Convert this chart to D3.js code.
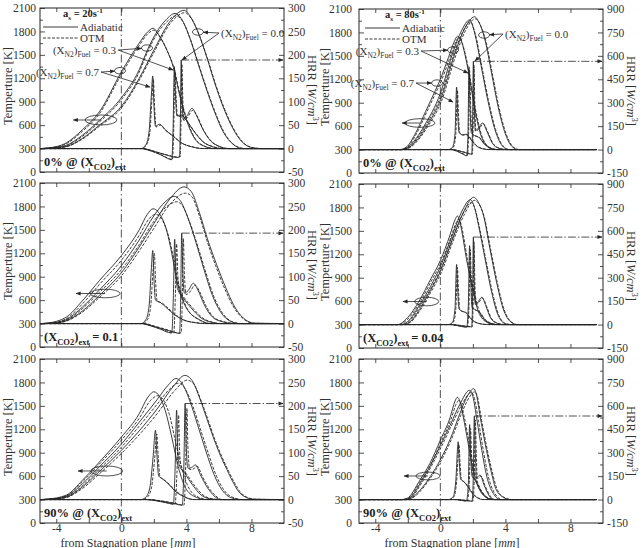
<!DOCTYPE html>
<html>
<head>
<meta charset="utf-8">
<script src="https://cdn.jsdelivr.net/npm/d3@7"></script>
<style>
body { margin: 0; background: #fff; }
svg { font-family: "Liberation Serif", "Times New Roman", serif; }
</style>
</head>
<body>
<div id="chart-area"></div>
<script>
// ---- data: [mm from stagnation plane, value] ----
// top-left: a = 20 1/s, 0% CO2
const L1_T07a = [[-5,300],[-4.4,310],[-3.4,370],[-2.4,540],[-1.35,770],[0,1280],[1.1,1650],[1.6,1790],[1.95,1840],[2.35,1740],[2.8,1560],[3.2,1340],[3.6,970],[4.0,670],[4.5,430],[5.1,330],[5.7,300],[10,300]];
const L1_T07o = [[-5,300],[-4.4,308],[-3.4,360],[-2.4,520],[-1.35,745],[0,1250],[1.1,1620],[1.6,1765],[2.0,1815],[2.4,1720],[2.85,1540],[3.25,1320],[3.65,950],[4.05,660],[4.55,425],[5.15,328],[5.8,300],[10,300]];
const L1_T03a = [[-5,300],[-4.2,310],[-3.4,340],[-2.4,470],[-1.35,660],[0,950],[1.1,1310],[1.6,1560],[2.2,1800],[2.75,1950],[3.3,2030],[3.7,1960],[4.2,1720],[4.7,1400],[5.25,1050],[5.75,760],[6.25,520],[6.9,350],[7.5,300],[10,300]];
const L1_T03o = [[-5,300],[-4.2,308],[-3.4,335],[-2.4,455],[-1.35,640],[0,925],[1.1,1280],[1.6,1530],[2.2,1770],[2.8,1925],[3.35,2000],[3.75,1935],[4.25,1700],[4.75,1380],[5.3,1035],[5.8,750],[6.3,515],[6.95,345],[7.6,300],[10,300]];
const L1_T00a = [[-5,300],[-4.0,310],[-3.4,325],[-2.4,430],[-1.35,600],[0,840],[1.1,1200],[2.0,1560],[3.0,1930],[3.85,2070],[4.25,1990],[4.75,1770],[5.25,1470],[5.75,1135],[6.25,840],[6.8,580],[7.4,390],[8.1,310],[8.6,300],[10,300]];
const L1_T00o = [[-5,300],[-4.0,308],[-3.4,322],[-2.4,420],[-1.35,585],[0,820],[1.1,1175],[2.0,1530],[3.0,1900],[3.9,2040],[4.3,1965],[4.8,1750],[5.3,1450],[5.8,1120],[6.3,830],[6.85,575],[7.45,385],[8.15,308],[8.7,300],[10,300]];
const L1_H07a = [[-5,0],[1.2,0],[1.5,8],[1.7,35],[1.84,110],[1.93,155],[2.0,95],[2.1,48],[2.35,52],[2.7,40],[3.2,26],[3.7,12],[4.3,4],[5,0],[10,0]];
const L1_H07o = [[-5,0],[1.25,0],[1.55,8],[1.75,33],[1.88,105],[1.97,148],[2.04,92],[2.14,46],[2.4,50],[2.75,38],[3.25,25],[3.75,11],[4.35,4],[5.05,0],[10,0]];
const L1_H03a = [[-5,0],[1.2,0],[1.8,-5],[2.4,-13],[2.85,-21],[3.1,-24],[3.18,40],[3.26,175],[3.32,120],[3.42,70],[3.7,72],[4.0,60],[4.5,35],[5.0,15],[5.6,4],[6.2,0],[10,0]];
const L1_H03o = [[-5,0],[1.25,0],[1.85,-5],[2.45,-13],[2.9,-21],[3.14,-23],[3.22,40],[3.3,166],[3.36,115],[3.46,68],[3.75,70],[4.05,58],[4.55,34],[5.05,14],[5.65,4],[6.25,0],[10,0]];
const L1_H00a = [[-5,0],[1.3,0],[2.0,-6],[2.8,-14],[3.4,-19],[3.58,-18],[3.63,60],[3.68,189],[3.74,110],[3.8,62],[4.0,68],[4.35,86],[4.6,72],[5.0,42],[5.5,16],[6.0,5],[6.6,0],[10,0]];
const L1_H00o = [[-5,0],[1.35,0],[2.05,-6],[2.85,-14],[3.45,-18],[3.62,-17],[3.67,58],[3.72,180],[3.78,106],[3.84,60],[4.05,66],[4.4,82],[4.65,70],[5.05,40],[5.55,15],[6.05,4],[6.65,0],[10,0]];

// top-right: a = 80 1/s, 0% CO2
const R1_T07a = [[-5,300],[-2.5,300],[-2.1,330],[-1.5,520],[-0.9,790],[-0.3,1060],[0,1200],[0.5,1480],[0.85,1680],[1.05,1750],[1.25,1710],[1.5,1530],[1.8,1210],[2.1,840],[2.5,480],[2.9,340],[3.3,300],[9.6,300]];
const R1_T07o = [[-5,300],[-2.45,300],[-2.05,328],[-1.45,510],[-0.85,775],[-0.25,1040],[0.05,1175],[0.55,1455],[0.9,1655],[1.1,1725],[1.3,1685],[1.55,1510],[1.85,1190],[2.15,830],[2.55,475],[2.95,338],[3.35,300],[9.6,300]];
const R1_T03a = [[-5,300],[-2.4,300],[-2.0,330],[-1.5,440],[-1.0,600],[0,1020],[0.75,1530],[1.3,1820],[1.8,1960],[2.1,1800],[2.5,1380],[2.9,950],[3.35,560],[3.8,350],[4.2,300],[9.6,300]];
const R1_T03o = [[-5,300],[-2.35,300],[-1.95,328],[-1.45,435],[-0.95,590],[0.05,1000],[0.8,1505],[1.35,1795],[1.85,1935],[2.15,1780],[2.55,1365],[2.95,940],[3.4,555],[3.85,348],[4.25,300],[9.6,300]];
const R1_T00a = [[-5,300],[-2.3,300],[-1.9,330],[-1.4,430],[-0.9,580],[0,930],[0.9,1530],[1.5,1850],[2.1,2000],[2.4,1920],[2.75,1700],[3.15,1280],[3.55,850],[4.0,500],[4.45,330],[4.8,300],[9.6,300]];
const R1_T00o = [[-5,300],[-2.25,300],[-1.85,328],[-1.35,425],[-0.85,570],[0.05,910],[0.95,1505],[1.55,1825],[2.15,1975],[2.45,1900],[2.8,1685],[3.2,1270],[3.6,845],[4.05,498],[4.5,330],[4.85,300],[9.6,300]];
const R1_H07a = [[-5,0],[0.5,0],[0.75,15],[0.9,100],[1.0,400],[1.06,250],[1.15,110],[1.35,95],[1.6,98],[1.9,60],[2.2,25],[2.6,5],[3.0,0],[9.6,0]];
const R1_H07o = [[-5,0],[0.55,0],[0.8,15],[0.95,95],[1.05,380],[1.11,240],[1.2,105],[1.4,92],[1.65,95],[1.95,58],[2.25,24],[2.65,5],[3.05,0],[9.6,0]];
const R1_H03a = [[-5,0],[0.6,0],[1.0,-10],[1.4,-30],[1.62,-40],[1.7,100],[1.76,530],[1.82,300],[1.9,110],[2.1,90],[2.35,80],[2.7,35],[3.1,8],[3.5,0],[9.6,0]];
const R1_H03o = [[-5,0],[0.65,0],[1.05,-10],[1.45,-29],[1.66,-38],[1.74,100],[1.8,505],[1.86,290],[1.94,105],[2.14,88],[2.4,78],[2.75,34],[3.15,8],[3.55,0],[9.6,0]];
const R1_H00a = [[-5,0],[0.7,0],[1.2,-10],[1.7,-25],[1.93,-30],[1.98,150],[2.03,565],[2.08,300],[2.15,120],[2.35,140],[2.6,170],[2.85,120],[3.2,40],[3.6,8],[4.0,0],[9.6,0]];
const R1_H00o = [[-5,0],[0.75,0],[1.25,-10],[1.75,-24],[1.97,-29],[2.02,150],[2.07,540],[2.12,290],[2.19,118],[2.4,136],[2.65,165],[2.9,116],[3.25,38],[3.65,8],[4.05,0],[9.6,0]];

// middle-left: a = 20 1/s, X_CO2 = 0.1
const L2_T07a = [[-5,300],[-4.6,305],[-3.4,380],[-2.4,590],[-1.35,850],[0,1170],[1.1,1500],[1.6,1700],[1.95,1770],[2.3,1720],[2.8,1480],[3.1,1200],[3.4,860],[4.0,500],[4.8,350],[5.5,300],[10,300]];
const L2_T07o = [[-5,300],[-4.4,305],[-3.4,360],[-2.4,550],[-1.35,800],[0,1110],[1.1,1430],[1.7,1640],[2.1,1700],[2.45,1650],[2.9,1420],[3.2,1150],[3.5,830],[4.05,490],[4.8,345],[5.5,300],[10,300]];
const L2_T03a = [[-5,300],[-4.4,305],[-3.4,350],[-2.4,510],[-1.35,730],[0,1040],[1.1,1370],[2.0,1680],[2.7,1860],[3.25,1930],[3.6,1880],[4.1,1650],[4.6,1330],[5.1,980],[5.6,660],[6.1,450],[6.7,330],[7.3,300],[10,300]];
const L2_T03o = [[-5,300],[-4.3,305],[-3.4,340],[-2.4,490],[-1.35,700],[0,990],[1.1,1310],[2.0,1610],[2.8,1800],[3.4,1860],[3.75,1810],[4.2,1600],[4.7,1290],[5.2,950],[5.7,640],[6.2,440],[6.8,325],[7.4,300],[10,300]];
const L2_T00a = [[-5,300],[-4.2,305],[-3.4,335],[-2.4,460],[-1.35,660],[0,950],[1.1,1280],[2.0,1580],[3.0,1900],[3.85,2050],[4.3,1990],[4.8,1720],[5.3,1380],[5.85,1060],[6.4,770],[6.9,540],[7.5,370],[8.2,305],[10,300]];
const L2_T00o = [[-5,300],[-4.1,305],[-3.4,330],[-2.4,445],[-1.35,635],[0,910],[1.1,1230],[2.0,1520],[3.0,1830],[3.95,1970],[4.35,1920],[4.8,1680],[5.3,1340],[5.8,1040],[6.35,750],[6.85,530],[7.45,370],[8.1,305],[10,300]];
const L2_H07a = [[-5,0],[1.2,0],[1.5,8],[1.7,35],[1.85,120],[1.93,156],[2.0,100],[2.1,50],[2.4,45],[2.8,33],[3.3,18],[3.8,8],[4.5,2],[5.1,0],[10,0]];
const L2_H07o = [[-5,0],[1.3,0],[1.6,8],[1.8,35],[1.95,115],[2.03,150],[2.1,96],[2.2,48],[2.5,44],[2.9,32],[3.4,17],[3.9,7],[4.6,2],[5.2,0],[10,0]];
const L2_H03a = [[-5,0],[1.2,0],[1.8,-5],[2.4,-12],[2.9,-19],[3.1,-20],[3.2,60],[3.28,180],[3.35,110],[3.45,75],[3.8,55],[4.3,33],[4.9,12],[5.5,3],[6.1,0],[10,0]];
const L2_H03o = [[-5,0],[1.3,0],[1.9,-5],[2.5,-12],[3.0,-19],[3.22,-20],[3.32,58],[3.4,170],[3.47,105],[3.57,72],[3.92,53],[4.42,32],[5.0,12],[5.6,3],[6.2,0],[10,0]];
const L2_H00a = [[-5,0],[1.3,0],[2.0,-6],[2.8,-14],[3.4,-20],[3.58,-21],[3.65,60],[3.71,193],[3.78,110],[3.88,65],[4.1,70],[4.43,86],[4.7,72],[5.1,40],[5.6,14],[6.2,4],[7.0,0],[10,0]];
const L2_H00o = [[-5,0],[1.4,0],[2.1,-6],[2.9,-14],[3.5,-20],[3.68,-20],[3.75,58],[3.81,182],[3.88,105],[3.98,62],[4.2,67],[4.53,82],[4.8,69],[5.2,38],[5.7,13],[6.3,4],[7.1,0],[10,0]];

// middle-right: a = 80 1/s, X_CO2 = 0.04
const R2_T07a = [[-5,300],[-2.6,300],[-2.1,370],[-1.25,620],[-0.65,860],[0,1120],[0.6,1450],[0.9,1640],[1.05,1690],[1.2,1620],[1.35,1460],[1.6,1150],[1.95,790],[2.35,460],[2.85,330],[3.3,300],[9.6,300]];
const R2_T07o = [[-5,300],[-2.55,300],[-2.05,360],[-1.2,605],[-0.6,840],[0.05,1095],[0.65,1420],[0.98,1605],[1.12,1650],[1.27,1590],[1.42,1440],[1.67,1130],[2.02,780],[2.42,455],[2.92,328],[3.35,300],[9.6,300]];
const R2_T03a = [[-5,300],[-2.4,300],[-2.0,340],[-1.25,560],[-0.6,790],[0,1040],[0.7,1420],[1.3,1740],[1.85,1900],[2.1,1800],[2.35,1570],[2.75,1140],[3.15,720],[3.55,420],[4.0,310],[4.3,300],[9.6,300]];
const R2_T03o = [[-5,300],[-2.35,300],[-1.95,335],[-1.2,550],[-0.55,775],[0.05,1020],[0.75,1395],[1.35,1705],[1.9,1860],[2.15,1770],[2.4,1550],[2.8,1130],[3.2,715],[3.6,418],[4.05,310],[4.35,300],[9.6,300]];
const R2_T00a = [[-5,300],[-2.3,300],[-1.9,330],[-1.2,520],[-0.6,740],[0,980],[0.7,1370],[1.4,1730],[2.05,1930],[2.3,1880],[2.65,1700],[3.05,1270],[3.45,850],[3.85,510],[4.35,330],[4.7,300],[9.6,300]];
const R2_T00o = [[-5,300],[-2.25,300],[-1.85,328],[-1.15,512],[-0.55,728],[0.05,962],[0.75,1350],[1.45,1700],[2.1,1890],[2.35,1850],[2.7,1675],[3.1,1255],[3.5,840],[3.9,505],[4.4,328],[4.75,300],[9.6,300]];
const R2_H07a = [[-5,0],[0.5,0],[0.75,15],[0.9,100],[1.0,385],[1.06,240],[1.15,100],[1.35,85],[1.55,78],[1.8,45],[2.1,18],[2.5,4],[2.9,0],[9.6,0]];
const R2_H07o = [[-5,0],[0.55,0],[0.8,15],[0.95,95],[1.05,365],[1.11,230],[1.2,96],[1.4,82],[1.6,75],[1.85,43],[2.15,17],[2.55,4],[2.95,0],[9.6,0]];
const R2_H03a = [[-5,0],[0.6,0],[1.0,-6],[1.4,-14],[1.62,-17],[1.72,120],[1.8,505],[1.86,300],[1.95,110],[2.15,95],[2.4,80],[2.7,35],[3.1,8],[3.5,0],[9.6,0]];
const R2_H03o = [[-5,0],[0.65,0],[1.05,-6],[1.45,-14],[1.66,-16],[1.76,115],[1.84,480],[1.9,285],[1.99,105],[2.19,92],[2.44,77],[2.74,34],[3.14,8],[3.55,0],[9.6,0]];
const R2_H00a = [[-5,0],[0.7,0],[1.2,-6],[1.7,-13],[1.92,-15],[1.98,150],[2.03,560],[2.08,300],[2.15,130],[2.35,150],[2.55,175],[2.8,120],[3.1,40],[3.5,8],[3.9,0],[9.6,0]];
const R2_H00o = [[-5,0],[0.75,0],[1.25,-6],[1.75,-13],[1.96,-14],[2.02,145],[2.07,530],[2.12,290],[2.19,125],[2.39,145],[2.6,168],[2.85,115],[3.15,38],[3.55,8],[3.95,0],[9.6,0]];

// bottom-left: a = 20 1/s, 90% CO2
const L3_T07a = [[-5,300],[-4.6,305],[-3.4,355],[-2.4,545],[-1.35,780],[0,1100],[1.1,1400],[1.6,1600],[2.0,1680],[2.35,1620],[2.7,1440],[3.1,1100],[3.5,720],[4.0,430],[4.6,330],[5.2,300],[10,300]];
const L3_T07o = [[-5,300],[-4.5,305],[-3.4,345],[-2.4,525],[-1.35,755],[0,1060],[1.1,1340],[1.8,1570],[2.25,1630],[2.6,1570],[2.95,1390],[3.3,1070],[3.7,710],[4.2,430],[4.8,325],[5.4,300],[10,300]];
const L3_T03a = [[-5,300],[-4.4,305],[-3.4,340],[-2.4,500],[-1.35,720],[0,1010],[1.1,1290],[2.2,1580],[2.9,1770],[3.35,1850],[3.7,1800],[4.2,1570],[4.7,1250],[5.2,920],[5.7,620],[6.2,420],[6.8,320],[7.4,300],[10,300]];
const L3_T03o = [[-5,300],[-4.3,305],[-3.4,330],[-2.4,475],[-1.35,690],[0,970],[1.1,1240],[2.2,1520],[3.0,1720],[3.5,1790],[3.85,1740],[4.35,1520],[4.85,1210],[5.35,890],[5.85,600],[6.35,410],[6.95,320],[7.5,300],[10,300]];
const L3_T00a = [[-5,300],[-4.3,305],[-3.4,330],[-2.4,460],[-1.35,660],[0,930],[1.1,1180],[2.2,1460],[3.2,1750],[3.9,1890],[4.3,1840],[4.85,1580],[5.25,1340],[5.65,1100],[6.1,860],[6.5,680],[6.9,510],[7.3,380],[8.1,305],[10,300]];
const L3_T00o = [[-5,300],[-4.2,305],[-3.4,325],[-2.4,440],[-1.35,630],[0,890],[1.1,1130],[2.2,1400],[3.3,1700],[4.05,1830],[4.45,1780],[4.95,1540],[5.35,1310],[5.75,1070],[6.2,840],[6.6,660],[7.0,500],[7.4,375],[8.2,305],[10,300]];
const L3_H07a = [[-5,0],[1.2,0],[1.5,5],[1.75,25],[1.95,90],[2.1,148],[2.18,100],[2.3,50],[2.5,45],[2.9,33],[3.3,18],[3.8,7],[4.4,0],[10,0]];
const L3_H07o = [[-5,0],[1.3,0],[1.6,5],[1.85,25],[2.05,88],[2.18,140],[2.26,96],[2.38,48],[2.6,43],[3.0,31],[3.4,17],[3.9,6],[4.5,0],[10,0]];
const L3_H03a = [[-5,0],[1.5,0],[2.2,-3],[2.9,-8],[3.2,-10],[3.3,60],[3.4,191],[3.46,110],[3.55,75],[3.9,56],[4.4,30],[4.9,10],[5.4,2],[6,0],[10,0]];
const L3_H03o = [[-5,0],[1.6,0],[2.3,-3],[3.0,-8],[3.3,-10],[3.42,58],[3.52,180],[3.58,105],[3.67,72],[4.02,54],[4.52,29],[5.02,10],[5.52,2],[6.1,0],[10,0]];
const L3_H00a = [[-5,0],[1.6,0],[2.4,-3],[3.2,-8],[3.75,-12],[3.85,80],[3.92,205],[3.98,120],[4.1,67],[4.3,68],[4.55,74],[4.9,50],[5.3,25],[5.7,8],[6.1,0],[10,0]];
const L3_H00o = [[-5,0],[1.7,0],[2.5,-3],[3.3,-8],[3.85,-12],[3.96,78],[4.03,195],[4.09,115],[4.21,64],[4.41,65],[4.66,71],[5.0,48],[5.4,24],[5.8,8],[6.2,0],[10,0]];

// bottom-right: a = 80 1/s, 90% CO2
const R3_T07a = [[-5,300],[-2.4,300],[-2.05,315],[-1.25,550],[-0.65,760],[0,1060],[0.6,1350],[0.9,1560],[1.05,1610],[1.2,1560],[1.4,1370],[1.7,1030],[2.0,690],[2.4,430],[2.9,320],[3.3,300],[9.6,300]];
const R3_T07o = [[-5,300],[-2.35,300],[-2.0,313],[-1.2,540],[-0.6,745],[0.05,1040],[0.65,1325],[0.98,1525],[1.13,1570],[1.28,1525],[1.48,1345],[1.78,1015],[2.08,680],[2.48,425],[2.98,318],[3.4,300],[9.6,300]];
const R3_T03a = [[-5,300],[-2.3,300],[-1.9,320],[-1.2,520],[-0.6,740],[0,990],[0.6,1250],[1.2,1520],[1.8,1700],[2.0,1620],[2.25,1320],[2.55,930],[2.85,600],[3.25,380],[3.7,300],[9.6,300]];
const R3_T03o = [[-5,300],[-2.25,300],[-1.85,318],[-1.15,512],[-0.55,728],[0.05,972],[0.65,1232],[1.28,1500],[1.9,1670],[2.1,1595],[2.35,1300],[2.65,920],[2.95,595],[3.35,378],[3.8,300],[9.6,300]];
const R3_T00a = [[-5,300],[-2.1,300],[-1.7,330],[-1.25,420],[-0.6,600],[0,810],[0.6,1070],[1.2,1400],[1.7,1640],[2.05,1720],[2.2,1660],[2.45,1360],[2.75,1020],[3.1,680],[3.45,420],[3.95,320],[4.3,300],[9.6,300]];
const R3_T00o = [[-5,300],[-2.05,300],[-1.65,328],[-1.2,415],[-0.55,592],[0.05,798],[0.65,1055],[1.26,1380],[1.78,1610],[2.12,1680],[2.27,1625],[2.52,1335],[2.82,1005],[3.17,672],[3.52,418],[4.02,318],[4.4,300],[9.6,300]];
const R3_H07a = [[-5,0],[0.5,0],[0.8,20],[0.95,120],[1.1,370],[1.16,250],[1.25,130],[1.45,115],[1.7,80],[2.0,35],[2.3,10],[2.6,0],[9.6,0]];
const R3_H07o = [[-5,0],[0.55,0],[0.85,20],[1.0,115],[1.15,350],[1.21,240],[1.3,125],[1.5,110],[1.75,77],[2.05,33],[2.35,10],[2.65,0],[9.6,0]];
const R3_H03a = [[-5,0],[0.9,0],[1.3,-5],[1.6,-10],[1.72,100],[1.8,480],[1.86,300],[1.95,150],[2.1,130],[2.4,70],[2.8,15],[3.1,0],[9.6,0]];
const R3_H03o = [[-5,0],[0.95,0],[1.35,-5],[1.65,-10],[1.78,95],[1.86,455],[1.92,285],[2.01,145],[2.16,125],[2.46,67],[2.86,14],[3.16,0],[9.6,0]];
const R3_H00a = [[-5,0],[1.0,0],[1.5,-5],[1.95,-10],[2.02,120],[2.09,535],[2.15,300],[2.22,140],[2.44,157],[2.7,90],[3.0,25],[3.3,0],[9.6,0]];
const R3_H00o = [[-5,0],[1.05,0],[1.55,-5],[2.0,-10],[2.08,115],[2.15,510],[2.21,290],[2.28,135],[2.5,150],[2.76,86],[3.06,24],[3.36,0],[9.6,0]];

// ---- axes ----
const xDomain = [-5, 10];
const xTicks = [-4, -2, 0, 2, 4, 6, 8];
const xTickLabels = [-4, 0, 4, 8];
const tempTicks = [0, 300, 600, 900, 1200, 1500, 1800, 2100];
const hrrTicksLeft = [-50, 0, 50, 100, 150, 200, 250, 300];
const hrrTicksRight = [-150, 0, 150, 300, 450, 600, 750, 900];

// ---- annotations, in (mm, K) ----
// big oval on temperature curves: [cx, cy, rx(mm), ry(K), arrow tip mm]
const ovalL1 = [-1.25, 666, 0.98, 64, -2.95];
const ovalR1 = [-1.25, 640, 0.92, 55, -2.35];
const ovalL2 = [-1.0, 685, 0.92, 55, -2.78];
const ovalR2 = [-0.84, 595, 0.74, 55, -2.29];
const ovalL3 = [-0.9, 666, 0.98, 64, -2.66];
const ovalR3 = [-0.76, 602, 0.74, 50, -2.23];
// N2 labels: [value, text x, text y, anchor, small oval x, y, arrow tip x, y]
const n2LabelsL1 = [["0.0", 6.13, 1780, "start", 4.71, 1793, 3.73, 1434],
                    ["0.3", -0.32, 1562, "end", 1.58, 1588, 3.18, 1306],
                    ["0.7", -1.37, 1280, "end", -0.08, 1297, 1.76, 1088]];
const n2LabelsR1 = [["0.0", 3.98, 1780, "start", 2.69, 1767, 2.13, 1434],
                    ["0.3", -1.31, 1562, "end", 0.78, 1575, 1.70, 1280],
                    ["0.7", -1.62, 1152, "end", -0.2, 1152, 0.78, 909]];

const capZero = [["0% @ (X"], ["CO2", "sub"], [")"], ["ext", "sub"]];
const capL2 = [["(X"], ["CO2", "sub"], [")"], ["ext", "sub"], [" = 0.1"]];
const capR2 = [["(X"], ["CO2", "sub"], [")"], ["ext", "sub"], [" = 0.04"]];
const capNinety = [["90% @ (X"], ["CO2", "sub"], [")"], ["ext", "sub"]];

const chartSize = { width: 643, height: 548 };
const plotW = 244, plotH = 164;
const colLeft = [40, 359];
const rowTop = [[8, 183, 359], [9, 184, 359]];
const ink = "#262626";

const panels = [
  { col: 0, row: 0, T: [L1_T00a, L1_T00o, L1_T03a, L1_T03o, L1_T07a, L1_T07o], H: [L1_H00a, L1_H00o, L1_H03a, L1_H03o, L1_H07a, L1_H07o], oval: ovalL1, cap: capZero, labels: n2LabelsL1, rate: "20" },
  { col: 1, row: 0, T: [R1_T00a, R1_T00o, R1_T03a, R1_T03o, R1_T07a, R1_T07o], H: [R1_H00a, R1_H00o, R1_H03a, R1_H03o, R1_H07a, R1_H07o], oval: ovalR1, cap: capZero, labels: n2LabelsR1, rate: "80" },
  { col: 0, row: 1, T: [L2_T00a, L2_T00o, L2_T03a, L2_T03o, L2_T07a, L2_T07o], H: [L2_H00a, L2_H00o, L2_H03a, L2_H03o, L2_H07a, L2_H07o], oval: ovalL2, cap: capL2 },
  { col: 1, row: 1, T: [R2_T00a, R2_T00o, R2_T03a, R2_T03o, R2_T07a, R2_T07o], H: [R2_H00a, R2_H00o, R2_H03a, R2_H03o, R2_H07a, R2_H07o], oval: ovalR2, cap: capR2 },
  { col: 0, row: 2, T: [L3_T00a, L3_T00o, L3_T03a, L3_T03o, L3_T07a, L3_T07o], H: [L3_H00a, L3_H00o, L3_H03a, L3_H03o, L3_H07a, L3_H07o], oval: ovalL3, cap: capNinety },
  { col: 1, row: 2, T: [R3_T00a, R3_T00o, R3_T03a, R3_T03o, R3_T07a, R3_T07o], H: [R3_H00a, R3_H00o, R3_H03a, R3_H03o, R3_H07a, R3_H07o], oval: ovalR3, cap: capNinety },
];

// text with sub/sup/italic pieces
const richText = function (sel, parts, size) {
  let shift = 0;
  parts.forEach(p => {
    const kind = p[1];
    const target = kind === "sub" ? size * 0.28 : kind === "sup" ? -size * 0.38 : 0;
    const t = sel.append("tspan").text(p[0]).attr("dy", target - shift);
    if (kind === "sub" || kind === "sup") t.attr("font-size", size * 0.68);
    if (kind === "i") t.attr("font-style", "italic");
    shift = target;
  });
  return sel;
};

const svg = d3.select("#chart-area").append("svg")
  .attr("width", chartSize.width)
  .attr("height", chartSize.height);

const defs = svg.append("defs");
defs.append("marker")
  .attr("id", "arrow")
  .attr("viewBox", "0 0 10 10")
  .attr("refX", 9).attr("refY", 5)
  .attr("markerUnits", "userSpaceOnUse")
  .attr("markerWidth", 6).attr("markerHeight", 5)
  .attr("orient", "auto")
  .append("path").attr("d", "M0,1L10,5L0,9z").attr("fill", ink);

const styleAxis = function (g) {
  g.select(".domain").remove();
  g.selectAll("line").attr("stroke", ink).attr("stroke-width", 0.8);
  g.selectAll("text")
    .attr("font-family", "Liberation Serif, Times New Roman, serif")
    .attr("font-size", 11.5)
    .attr("fill", "#333");
};

const mid = arr => d3.range(arr.length - 1).map(i => (arr[i] + arr[i + 1]) / 2);

const drawPanel = function (p, idx) {
  const x0 = colLeft[p.col], y0 = rowTop[p.col][p.row];
  const g = svg.append("g").attr("transform", `translate(${x0},${y0})`);

  const x = d3.scaleLinear().domain(xDomain).range([0, plotW]);
  const yT = d3.scaleLinear().domain([0, 2100]).range([plotH, 0]);
  const hTicks = p.col === 0 ? hrrTicksLeft : hrrTicksRight;
  const yH = d3.scaleLinear().domain([hTicks[0], hTicks[hTicks.length - 1]]).range([plotH, 0]);

  defs.append("clipPath").attr("id", "clip" + idx)
    .append("rect").attr("width", plotW).attr("height", plotH);

  // axes, ticks inward
  g.append("g").call(d3.axisLeft(yT).tickValues(tempTicks).tickSize(-5)
      .tickPadding(p.col === 0 ? 4 : 7).tickFormat(d => String(d))).call(styleAxis);
  g.append("g").call(d3.axisLeft(yT).tickValues(mid(tempTicks)).tickSize(-3).tickFormat("")).call(styleAxis);
  g.append("g").attr("transform", `translate(${plotW},0)`)
    .call(d3.axisRight(yH).tickValues(hTicks).tickSize(-5).tickPadding(4).tickFormat(d => String(d))).call(styleAxis);
  g.append("g").attr("transform", `translate(${plotW},0)`)
    .call(d3.axisRight(yH).tickValues(mid(hTicks)).tickSize(-3).tickFormat("")).call(styleAxis);
  g.append("g").call(d3.axisTop(x).tickValues(xTicks).tickSize(-4).tickFormat("")).call(styleAxis);
  g.append("g").attr("transform", `translate(0,${plotH})`)
    .call(d3.axisBottom(x).tickValues(xTicks).tickSize(-4).tickPadding(1)
      .tickFormat(d => (p.row === 2 && xTickLabels.includes(d)) ? String(d) : "")).call(styleAxis);

  g.append("rect").attr("width", plotW).attr("height", plotH)
    .attr("fill", "none").attr("stroke", ink).attr("stroke-width", 1);

  // stagnation plane
  g.append("line")
    .attr("x1", x(0)).attr("x2", x(0)).attr("y1", 0).attr("y2", plotH)
    .attr("stroke", ink).attr("stroke-width", 0.8).attr("stroke-dasharray", "8,3,1.5,3");

  const curves = g.append("g").attr("clip-path", `url(#clip${idx})`);
  const lineT = d3.line().x(d => x(d[0])).y(d => yT(d[1])).curve(d3.curveMonotoneX);
  const lineH = d3.line().x(d => x(d[0])).y(d => yH(d[1])).curve(d3.curveMonotoneX);

  p.T.forEach((s, i) => {
    curves.append("path").attr("d", lineT(s)).attr("fill", "none")
      .attr("stroke", ink).attr("stroke-width", 0.9)
      .attr("stroke-dasharray", i % 2 ? "3,1.5" : null);
  });
  p.H.forEach((s, i) => {
    curves.append("path").attr("d", lineH(s)).attr("fill", "none")
      .attr("stroke", ink).attr("stroke-width", 0.9)
      .attr("stroke-dasharray", i % 2 ? "3,1.5" : null);
  });

  // temperature axis marker: oval with arrow to the left
  const ov = p.oval;
  g.append("ellipse")
    .attr("cx", x(ov[0])).attr("cy", yT(ov[1]))
    .attr("rx", x(ov[0] + ov[2]) - x(ov[0])).attr("ry", yT(0) - yT(ov[3]))
    .attr("fill", "none").attr("stroke", ink).attr("stroke-width", 0.8);
  g.append("line")
    .attr("x1", x(ov[0])).attr("y1", yT(ov[1]))
    .attr("x2", x(ov[4])).attr("y2", yT(ov[1]))
    .attr("stroke", ink).attr("stroke-width", 0.8).attr("marker-end", "url(#arrow)");

  // HRR axis marker: dash-dot arrow from the X_N2 = 0.0 peak
  const pk = d3.greatest(p.H[0], d => d[1]);
  g.append("line")
    .attr("x1", x(pk[0])).attr("y1", yH(pk[1]))
    .attr("x2", plotW - 1).attr("y2", yH(pk[1]))
    .attr("stroke", ink).attr("stroke-width", 0.8)
    .attr("stroke-dasharray", "8,2,1.5,2").attr("marker-end", "url(#arrow)");

  // caption at bottom left
  richText(g.append("text").attr("x", 4).attr("y", plotH - 6)
    .attr("font-size", 12.5).attr("font-weight", "bold").attr("fill", "#222"), p.cap, 12.5);

  if (p.labels) {
    // legend
    const lx = p.col === 0 ? 3 : 6;
    richText(g.append("text").attr("x", lx + 20).attr("y", 9)
      .attr("font-size", 10.5).attr("font-weight", "bold").attr("fill", "#222"),
      [["a"], ["s", "sub"], [" = " + p.rate + "s"], ["-1", "sup"]], 10.5);
    [["Adiabatic", null, 19], ["OTM", "3,1.5", 30]].forEach(d => {
      g.append("line").attr("x1", lx).attr("x2", lx + 35).attr("y1", d[2]).attr("y2", d[2])
        .attr("stroke", ink).attr("stroke-width", 0.9).attr("stroke-dasharray", d[1]);
      g.append("text").attr("x", lx + 37).attr("y", d[2] + 4)
        .attr("font-size", 11).attr("fill", "#333").text(d[0]);
    });

    p.labels.forEach(l => {
      const tx = x(l[1]), ty = yT(l[2]);
      const ex = x(l[4]), ey = yT(l[5]);
      const hx = x(l[6]), hy = yT(l[7]);
      richText(g.append("text").attr("x", tx).attr("y", ty + 4)
        .attr("text-anchor", l[3]).attr("font-size", 11).attr("fill", "#333"),
        [["(X"], ["N2", "sub"], [")"], ["Fuel", "sub"], [" = " + l[0]]], 11);
      const sx = l[3] === "start" ? tx - 2 : tx + 2;
      const erx = 5.5, ery = 3.2;
      g.append("ellipse").attr("cx", ex).attr("cy", ey).attr("rx", erx).attr("ry", ery)
        .attr("fill", "none").attr("stroke", ink).attr("stroke-width", 0.8);
      // stop the arrow at the small oval's edge
      const dx = sx - ex, dy = ty - ey, len = Math.hypot(dx, dy);
      const t = 1 / Math.hypot(dx / len / erx, dy / len / ery);
      g.append("line").attr("x1", sx).attr("y1", ty)
        .attr("x2", ex + dx / len * t).attr("y2", ey + dy / len * t)
        .attr("stroke", ink).attr("stroke-width", 0.8).attr("marker-end", "url(#arrow)");
      g.append("line").attr("x1", sx).attr("y1", ty).attr("x2", hx).attr("y2", hy)
        .attr("stroke", ink).attr("stroke-width", 0.8).attr("marker-end", "url(#arrow)");
    });
  }

  // axis titles
  const cy = plotH / 2;
  g.append("text")
    .attr("transform", `translate(${p.col === 0 ? -28 : -30},${cy - 4}) rotate(-90)`)
    .attr("text-anchor", "middle").attr("font-size", 12.5).attr("fill", "#333")
    .text("Temperture [K]");
  richText(g.append("text")
    .attr("transform", `translate(${plotW + 24},${cy}) rotate(90)`)
    .attr("text-anchor", "middle").attr("font-size", 12.5).attr("fill", "#333"),
    [["HRR ["], ["W/cm", "i"], ["3", "sup"], ["]"]], 12.5);

  if (p.row === 2) {
    richText(g.append("text")
      .attr("x", p.col === 0 ? 88 : 93).attr("y", plotH + 23.5)
      .attr("text-anchor", "middle").attr("font-size", 12).attr("fill", "#333"),
      [["from Stagnation plane ["], ["mm", "i"], ["]"]], 12);
  }
};

panels.forEach(drawPanel);
</script>
</body>
</html>
